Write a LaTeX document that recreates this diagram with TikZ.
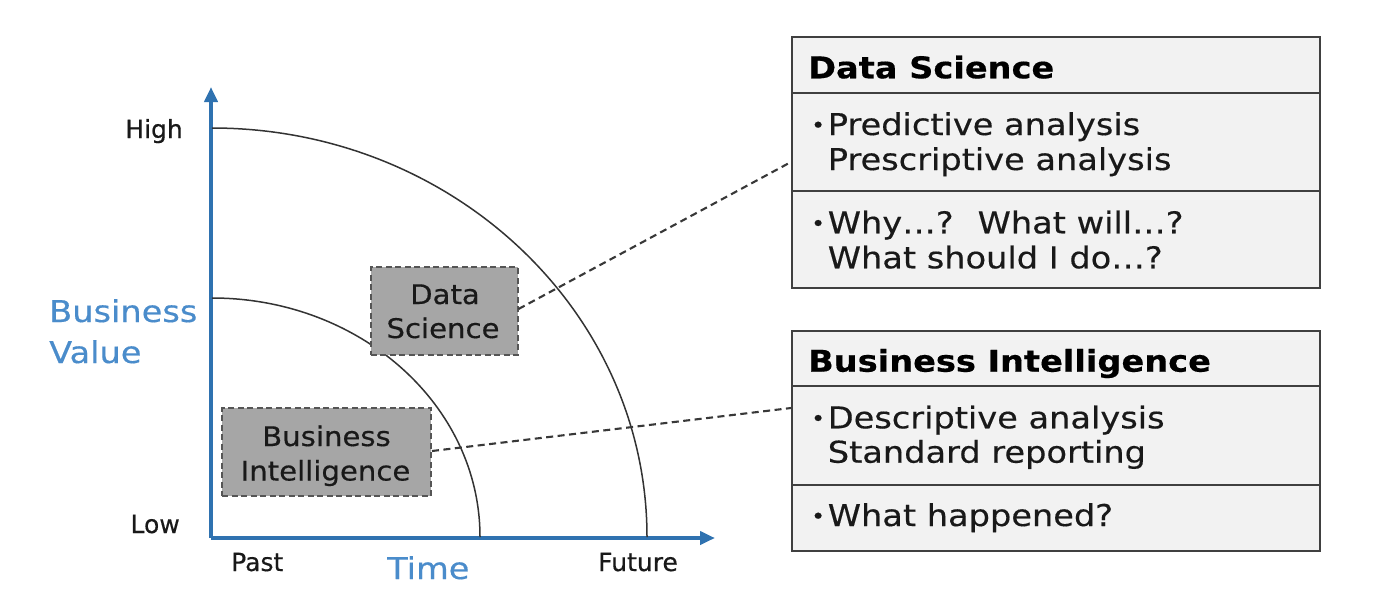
\documentclass[tikz,border=0pt]{standalone}
\usepackage{fontspec}
\setmainfont[FakeBold=0.4]{DejaVu Sans}
\newfontfamily\widefont[FakeStretch=1.12,FakeBold=0.4]{DejaVu Sans}
\newfontfamily\boxfont[FakeStretch=1.08,FakeBold=0.4]{DejaVu Sans}
\usetikzlibrary{arrows.meta}
\definecolor{axisblue}{HTML}{2F72B0}
\definecolor{textblue}{HTML}{4A8CCB}
\definecolor{boxgray}{HTML}{A6A6A6}
\definecolor{boxedge}{HTML}{555555}
\definecolor{cellfill}{HTML}{F2F2F2}
\definecolor{celledge}{HTML}{404040}
\definecolor{dashcol}{HTML}{383838}
\tikzset{
  axisline/.style={draw=axisblue, line width=4pt, -{Triangle[length=15pt,width=13pt]}},
  arcline/.style={draw=black!80, line width=1.5pt},
  graybox/.style={draw=boxedge, fill=boxgray, dash pattern=on 6pt off 3.5pt, line width=2pt, inner sep=0pt},
  connector/.style={draw=dashcol, line width=2.1pt, dash pattern=on 7pt off 4.5pt},
  cell/.style={draw=celledge, fill=cellfill, line width=2.4pt, inner sep=0pt, minimum width=528pt, anchor=north west},
  axlabel/.style={font=\fontsize{25}{25}\selectfont, inner sep=0pt, text=black!90},
  bluelabel/.style={font=\widefont\fontsize{30}{30}\selectfont, text=textblue, inner sep=0pt},
  gtext/.style={font=\boxfont\fontsize{27}{27}\selectfont, inner sep=0pt, text=black!90, anchor=base},
  ctext/.style={font=\widefont\fontsize{30}{30}\selectfont, inner sep=0pt, anchor=base west, text=black!90},
  chead/.style={font=\widefont\bfseries\fontsize{30}{30}\selectfont, inner sep=0pt, anchor=base west, text=black},
}
\newcommand{\bul}{\makebox[16.6pt][l]{\raisebox{2.5pt}{\fontsize{21}{21}\selectfont\textbullet}}}
\begin{document}
\begin{tikzpicture}[x=1pt, y=-1pt]
\useasboundingbox[fill=white] (0,0) rectangle (1380,600);

% axes
\coordinate (origin) at (211,538);
\coordinate (ytip) at (211,87);
\coordinate (xtip) at (715,538);
\draw[axisline] (origin) -- (ytip);
\draw[axisline] (origin) -- (xtip);

% arcs
\coordinate (outtop) at (212,128);
\coordinate (intop) at (212,298);
\draw[arcline] (outtop) arc[start angle=-90, end angle=0, x radius=435, y radius=409];
\draw[arcline] (intop) arc[start angle=-90, end angle=0, x radius=268, y radius=239];

% axis labels
\node[axlabel, anchor=base east] (high) at (183,138) {High};
\node[axlabel, anchor=base east] (low) at (180,533) {Low};
\node[axlabel, anchor=base west] (past) at (231,571) {Past};
\node[axlabel, anchor=base west] (future) at (598,571) {Future};
\node[bluelabel, anchor=base west] (time) at (387,579) {Time};
\node[bluelabel, anchor=base west] (bv1) at (49,322) {Business};
\node[bluelabel, anchor=base west] (bv2) at (49,363) {Value};

% gray boxes
\node[graybox, minimum width=147pt, minimum height=88pt] (ds) at (444,311) {};
\node[gtext] (dst1) at (445,304) {Data};
\node[gtext] (dst2) at (443,338) {Science};
\node[graybox, minimum width=209pt, minimum height=88pt] (bi) at (326.5,452) {};
\node[gtext] (bit1) at (326.5,446) {Business};
\node[gtext] (bit2) at (325.5,480.5) {Intelligence};

% tables: Data Science
\node[cell, minimum height=55.7pt] (dsh) at (791,36) {};
\node[cell, minimum height=98.3pt] (dsa) at (791,91.7) {};
\node[cell, minimum height=97pt] (dsb) at (791,190) {};
\node[chead] (dshead) at (808,78.3) {Data Science};
\node[ctext] (dsa1) at (811,135) {\bul Predictive analysis};
\node[ctext] (dsa2) at (827.6,170) {Prescriptive analysis};
\node[ctext] (dsb1) at (811,233.3) {\bul Why…?\hspace{24pt}What will…?};
\node[ctext] (dsb2) at (827.6,268.3) {What should I do…?};

% tables: Business Intelligence
\node[cell, minimum height=55.5pt] (bih) at (791,329.5) {};
\node[cell, minimum height=99pt] (bia) at (791,385) {};
\node[cell, minimum height=66pt] (bib) at (791,484) {};
\node[chead] (bihead) at (808,371.7) {Business Intelligence};
\node[ctext] (bia1) at (811,428.3) {\bul Descriptive analysis};
\node[ctext] (bia2) at (827.6,462.7) {Standard reporting};
\node[ctext] (bib1) at (811,526) {\bul What happened?};

% connectors
\draw[connector] (ds.east |- 0,309) -- (dsa.west |- 0,162);
\draw[connector] (bi.east |- 0,451) -- (bia.west |- 0,408);
\end{tikzpicture}
\end{document}
